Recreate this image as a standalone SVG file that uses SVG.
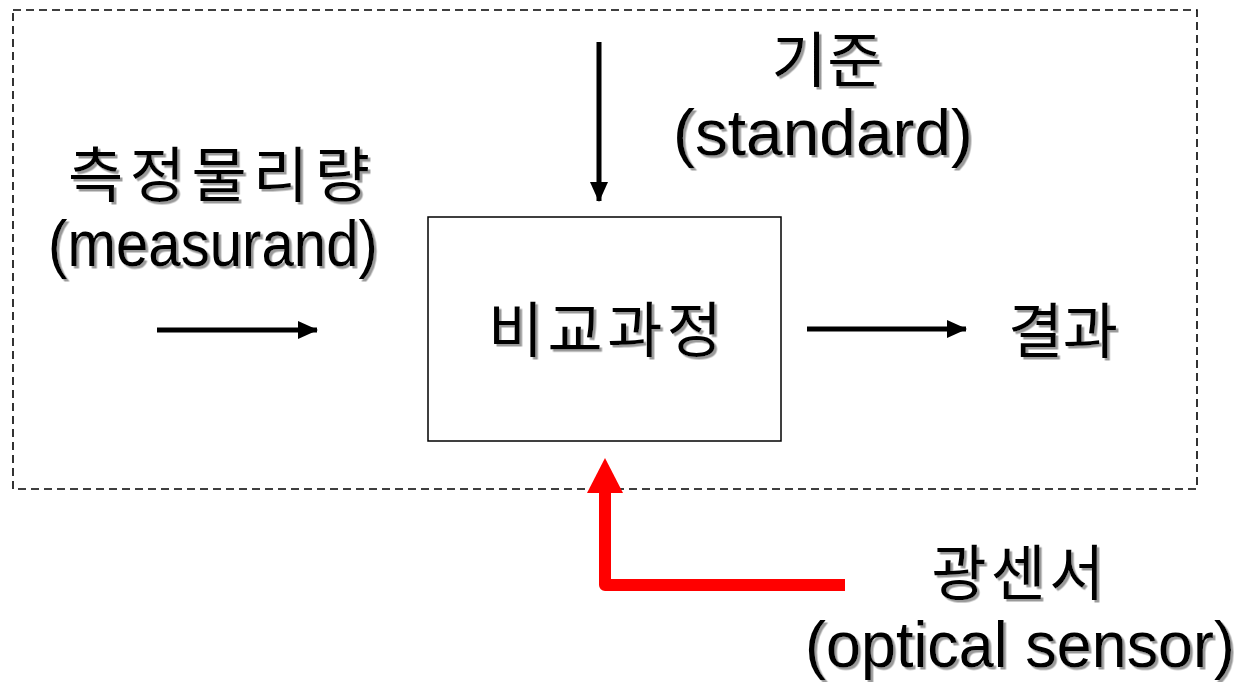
<svg xmlns="http://www.w3.org/2000/svg" width="1243" height="682" viewBox="0 0 1243 682">
  <style>
    .ko { font-family: "Noto Sans CJK KR", "Noto Sans", sans-serif; font-size: 60px; fill: #000; }
    .en { font-family: "Liberation Sans", Arial, sans-serif; font-size: 64px; fill: #000; }
    .lbl { filter: url(#shadow); }
    .flow { stroke: #000; stroke-width: 5; fill: none; }
  </style>
  <defs>
    <filter id="shadow" x="-5%" y="-10%" width="115%" height="130%">
      <feDropShadow dx="2.5" dy="2.5" stdDeviation="0.6" flood-color="#9a9a9a" flood-opacity="1"/>
    </filter>
    <marker id="head" viewBox="0 0 20 18" refX="19" refY="9" markerWidth="20" markerHeight="18" markerUnits="userSpaceOnUse" orient="auto">
      <path d="M0,0 L20,9 L0,18 Z" fill="#000"/>
    </marker>
  </defs>

  <!-- system boundary -->
  <rect id="boundary" x="13" y="10" width="1184" height="479" fill="none" stroke="#000" stroke-width="1.6" stroke-dasharray="8 5"/>

  <!-- connectors -->
  <g id="connectors">
    <line class="flow" x1="157" y1="330" x2="317" y2="330" marker-end="url(#head)"/>
    <line class="flow" x1="807" y1="329" x2="966" y2="329" marker-end="url(#head)"/>
    <line class="flow" x1="599" y1="42" x2="599" y2="201" marker-end="url(#head)"/>
    <path d="M845,585 L605,585 L605,490" fill="none" stroke="#ff0000" stroke-width="12" stroke-linejoin="round"/>
    <path d="M587,493 L605,458 L623,493 Z" fill="#ff0000"/>
  </g>

  <!-- comparison block -->
  <g id="compare">
    <rect x="428" y="217" width="353" height="224" fill="#fff" stroke="#000" stroke-width="1.5"/>
    <text class="ko lbl" x="605" y="352" text-anchor="middle" textLength="234" lengthAdjust="spacing">비교과정</text>
  </g>

  <!-- measurand input -->
  <g id="measurand">
    <text class="ko lbl" x="219" y="197" text-anchor="middle" textLength="302" lengthAdjust="spacing">측정물리량</text>
    <text class="en lbl" x="213" y="266" text-anchor="middle" textLength="330" lengthAdjust="spacingAndGlyphs">(measurand)</text>
  </g>

  <!-- reference standard -->
  <g id="standard">
    <text class="ko lbl" x="827" y="82" text-anchor="middle" textLength="111" lengthAdjust="spacing">기준</text>
    <text class="en lbl" x="823" y="155" text-anchor="middle" textLength="300" lengthAdjust="spacingAndGlyphs">(standard)</text>
  </g>

  <!-- result output -->
  <g id="result">
    <text class="ko lbl" x="1063" y="353" text-anchor="middle" textLength="110" lengthAdjust="spacing">결과</text>
  </g>

  <!-- optical sensor -->
  <g id="sensor">
    <text class="ko lbl" x="1018" y="595" text-anchor="middle" textLength="173" lengthAdjust="spacing">광센서</text>
    <text class="en lbl" x="1020" y="667" text-anchor="middle" textLength="430" lengthAdjust="spacingAndGlyphs">(optical sensor)</text>
  </g>
</svg>
